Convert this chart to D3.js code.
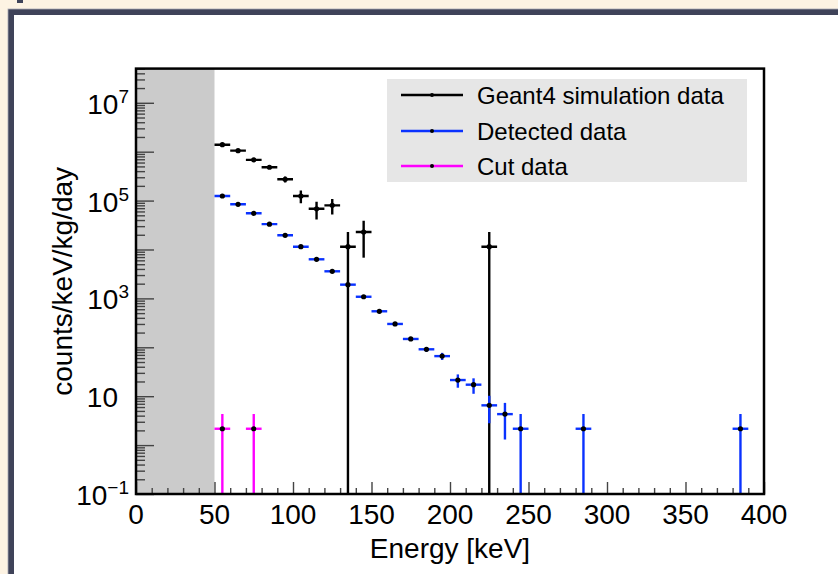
<!DOCTYPE html>
<html>
<head>
<meta charset="utf-8">
<script src="https://cdn.jsdelivr.net/npm/d3@7"></script>
<style>
  html, body { margin: 0; padding: 0; background: #fdf3e3; }
  svg { display: block; }
  text { font-family: "Liberation Sans", Arial, Helvetica, sans-serif; fill: #000; }
</style>
</head>
<body>
<svg id="chart" width="838" height="574"></svg>
<script>
// Energy spectra, 10 keV bins (bin centres in keV)
const binHalfWidth = 5;

const simEnergy = [55, 65, 75, 85, 95, 105, 115, 125, 135, 145, 225];
const simRate   = [1.39e6, 1.05e6, 6.8e5, 4.8e5, 2.73e5, 1.24e5, 6.8e4, 8.0e4, 1.14e4, 2.28e4, 1.14e4];
const simErr    = [2.0e4, 1.8e4, 1.4e4, 1.2e4, 3.8e4, 3.6e4, 2.7e4, 2.8e4, 1.14e4, 1.6e4, 1.14e4];

const detEnergy = [55, 65, 75, 85, 95, 105, 115, 125, 135, 145, 155, 165, 175, 185, 195, 205, 215, 225, 235, 245, 285, 385];
const detRate   = [1.24e5, 8.4e4, 5.5e4, 3.3e4, 1.95e4, 1.14e4, 6.3e3, 3.58e3, 1.91e3, 1.08e3, 545, 300, 148, 91, 66, 21.4, 17.2, 6.5, 4.3, 2.16, 2.16, 2.16];
const detErr    = [1.2e3, 9e2, 7e2, 5e2, 3.5e2, 2.5e2, 1.6e2, 1.0e2, 65, 45, 28, 18, 12, 10, 11, 6.5, 6, 3.7, 3.0, 2.16, 2.16, 2.16];

const cutEnergy = [55, 75];
const cutRate   = [2.16, 2.16];
const cutErr    = [2.16, 2.16];

// Threshold region below 50 keV
const thresholdRange = [0, 50];

// Axis ticks
const xMajorTicks = [0, 50, 100, 150, 200, 250, 300, 350, 400];
const xTickLabels = ["0", "50", "100", "150", "200", "250", "300", "350", "400"];
const yLabelValues = [0.1, 10, 1e3, 1e5, 1e7];
const yLabelExps   = ["\u22121", "", "3", "5", "7"];

const legendNames = ["Geant4 simulation data", "Detected data", "Cut data"];
const seriesColors = ["#000000", "#0a32ff", "#ff00ff"];

// ---------------------------------------------------------------------
const svg = d3.select("#chart");
const W = 838, H = 574;

// page frame
svg.append("rect").attr("x", 0).attr("y", 0).attr("width", W).attr("height", H).attr("fill", "#fdf3e3");
svg.append("rect").attr("x", 11).attr("y", 12).attr("width", W + 20).attr("height", H + 20)
  .attr("fill", "#ffffff").attr("stroke", "#3f4359").attr("stroke-width", 6);
svg.append("rect").attr("x", 8).attr("y", 9).attr("width", W + 20).attr("height", H + 20)
  .attr("fill", "none").attr("stroke", "#a9a9b4").attr("stroke-width", 0.8);
svg.append("rect").attr("x", 17).attr("y", 0).attr("width", 6).attr("height", 3).attr("fill", "#3f4359");

const frame = { left: 136, right: 764, top: 68.6, bottom: 494 };

const x = d3.scaleLinear().domain([0, 400]).range([frame.left, frame.right]);
const y = d3.scaleLog().domain([0.1, 5e7]).range([frame.bottom, frame.top]);

// threshold shading
svg.append("rect")
  .attr("x", x(thresholdRange[0])).attr("y", frame.top)
  .attr("width", x(thresholdRange[1]) - x(thresholdRange[0]))
  .attr("height", frame.bottom - frame.top)
  .attr("fill", "#cbcbcb");

// x-axis ticks (inside the frame)
const xMinor = d3.range(0, 401, 10).filter(v => v % 50 !== 0);
const xAxisMajor = d3.axisBottom(x).tickValues(xMajorTicks).tickSize(-12).tickSizeOuter(0).tickFormat("");
const xAxisMinor = d3.axisBottom(x).tickValues(xMinor).tickSize(-6).tickSizeOuter(0).tickFormat("");
[xAxisMajor, xAxisMinor].forEach(ax => {
  const g = svg.append("g").attr("transform", `translate(0,${frame.bottom})`).call(ax);
  g.select(".domain").remove();
  g.selectAll(".tick line").attr("stroke", "#444").attr("stroke-width", 1.4);
});

// y-axis ticks (inside the frame): every decade long, 2..9 short
const decades = d3.range(-1, 8).map(e => Math.pow(10, e));
const yMinor = [];
decades.forEach(d => { for (let k = 2; k <= 9; k++) { const v = d * k; if (v <= 5e7) yMinor.push(v); } });
const yAxisMajor = d3.axisLeft(y).tickValues(decades).tickSize(-18).tickSizeOuter(0).tickFormat("");
const yAxisMinor = d3.axisLeft(y).tickValues(yMinor).tickSize(-9).tickSizeOuter(0).tickFormat("");
[yAxisMajor, yAxisMinor].forEach(ax => {
  const g = svg.append("g").attr("transform", `translate(${frame.left},0)`).call(ax);
  g.select(".domain").remove();
  g.selectAll(".tick line").attr("stroke", "#444").attr("stroke-width", 1.4);
});

// x tick labels
svg.append("g").selectAll("text").data(xMajorTicks).join("text")
  .attr("x", d => x(d)).attr("y", frame.bottom + 30)
  .attr("text-anchor", "middle").attr("font-size", 28)
  .text((d, i) => xTickLabels[i]);

// y tick labels with exponents
const yl = svg.append("g").selectAll("text").data(yLabelValues).join("text")
  .attr("x", (d, i) => yLabelExps[i] ? frame.left - 7 : frame.left - 18)
  .attr("y", d => y(d) + 11)
  .attr("text-anchor", "end").attr("font-size", 28);
yl.append("tspan").text("10");
yl.filter((d, i) => yLabelExps[i] !== "")
  .append("tspan").attr("font-size", 19).attr("dy", -11)
  .text((d, i, n) => yLabelExps[yLabelValues.indexOf(d)]);

// axis titles
svg.append("text").attr("x", (frame.left + frame.right) / 2).attr("y", 558)
  .attr("text-anchor", "middle").attr("font-size", 28).text("Energy [keV]");
svg.append("text").attr("transform", `translate(72,${(frame.top + frame.bottom) / 2}) rotate(-90)`)
  .attr("text-anchor", "middle").attr("font-size", 28).text("counts/keV/kg/day");

// data
const plot = svg.append("g");
svg.append("clipPath").attr("id", "frameClip").append("rect")
  .attr("x", frame.left).attr("y", frame.top)
  .attr("width", frame.right - frame.left).attr("height", frame.bottom - frame.top);
plot.attr("clip-path", "url(#frameClip)");

function drawSeries(energy, rate, err, color) {
  const pts = energy.map((e, i) => ({ e, v: rate[i], err: err[i] }));
  const g = plot.append("g");
  const lo = d => (d.v - d.err > 0.1 ? y(d.v - d.err) : frame.bottom);
  g.selectAll("line.v").data(pts).join("line").attr("class", "v")
    .attr("x1", d => x(d.e)).attr("x2", d => x(d.e))
    .attr("y1", d => y(d.v + d.err)).attr("y2", lo)
    .attr("stroke", color).attr("stroke-width", 2.4);
  g.selectAll("line.h").data(pts).join("line").attr("class", "h")
    .attr("x1", d => x(d.e - binHalfWidth)).attr("x2", d => x(d.e + binHalfWidth))
    .attr("y1", d => y(d.v)).attr("y2", d => y(d.v))
    .attr("stroke", color).attr("stroke-width", 2.4);
  g.selectAll("circle").data(pts).join("circle")
    .attr("cx", d => x(d.e)).attr("cy", d => y(d.v)).attr("r", 2.6).attr("fill", "#000");
}
drawSeries(simEnergy, simRate, simErr, seriesColors[0]);
drawSeries(detEnergy, detRate, detErr, seriesColors[1]);
drawSeries(cutEnergy, cutRate, cutErr, seriesColors[2]);

// frame
svg.append("rect").attr("x", frame.left).attr("y", frame.top)
  .attr("width", frame.right - frame.left).attr("height", frame.bottom - frame.top)
  .attr("fill", "none").attr("stroke", "#000").attr("stroke-width", 2.5);

// legend
const lg = svg.append("g");
lg.append("rect").attr("x", 387).attr("y", 79).attr("width", 360).attr("height", 103).attr("fill", "#e6e6e6");
const rowY = [95, 131, 166];
legendNames.forEach((name, i) => {
  lg.append("line").attr("x1", 401).attr("x2", 463).attr("y1", rowY[i]).attr("y2", rowY[i])
    .attr("stroke", seriesColors[i]).attr("stroke-width", 2.4);
  lg.append("circle").attr("cx", 432).attr("cy", rowY[i]).attr("r", 2).attr("fill", "#000");
  lg.append("text").attr("x", 477).attr("y", rowY[i] + 8.5).attr("font-size", 24).text(name);
});
</script>
</body>
</html>
